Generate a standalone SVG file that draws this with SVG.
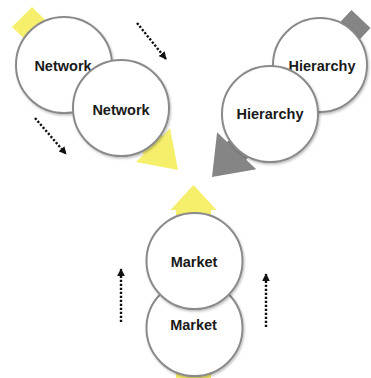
<svg xmlns="http://www.w3.org/2000/svg" width="371" height="378" viewBox="0 0 371 378">
  <defs>
    <marker id="dot-head" viewBox="0 0 10 10" refX="9" refY="5" markerWidth="3.2" markerHeight="3.2" orient="auto" markerUnits="strokeWidth">
      <path d="M0,0 L10,5 L0,10 Z" fill="#111"/>
    </marker>
    <filter id="soft" x="-20%" y="-20%" width="140%" height="140%">
      <feDropShadow dx="1" dy="1.5" stdDeviation="1.2" flood-color="#000" flood-opacity="0.25"/>
    </filter>
  </defs>
  <style>
    .ring { fill: #ffffff; stroke: #8a8a8a; stroke-width: 2; filter: url(#soft); }
    .label { font-family: "Liberation Sans", Arial, sans-serif; font-weight: bold; font-size: 14.5px; fill: #1a1a1a; text-anchor: middle; }
    .flow-y { fill: #f6ef6c; }
    .flow-g { fill: #858585; }
    .dots { fill: none; stroke: #111; stroke-width: 2.4; stroke-dasharray: 2.2 1.8; marker-end: url(#dot-head); }
  </style>
  <rect width="371" height="378" fill="#ffffff"/>

  <!-- broad block arrows running behind the circles -->
  <g id="connectors">
    <polygon class="flow-y" points="12,27 32,7 163,136 170,128 178,170 136,162 144,154"/>
    <polygon class="flow-g" points="370.5,27.9 351.5,10.1 227.2,141.9 217.1,132.3 212,177 256.3,169.3 246.2,159.7"/>
    <polygon class="flow-y" points="176,378 211,378 211,210 216.5,210 193.5,185 170.5,210 176,210"/>
    <path class="dots" d="M137,23 L166,59"/>
    <path class="dots" d="M35,118 L66,154"/>
    <path class="dots" d="M121,322 L121,269"/>
    <path class="dots" d="M266,327 L266,274"/>
  </g>

  <g id="network-1">
    <circle class="ring" cx="64" cy="65" r="48"/>
    <text class="label" x="63" y="71">Network</text>
  </g>
  <g id="network-2">
    <circle class="ring" cx="121" cy="108" r="48"/>
    <text class="label" x="121" y="115">Network</text>
  </g>

  <g id="hierarchy-1">
    <circle class="ring" cx="320" cy="65" r="47"/>
    <text class="label" x="322" y="70.5">Hierarchy</text>
  </g>
  <g id="hierarchy-2">
    <circle class="ring" cx="270" cy="114" r="48"/>
    <text class="label" x="270" y="118.5">Hierarchy</text>
  </g>

  <g id="market-2">
    <circle class="ring" cx="194.5" cy="328" r="48"/>
    <text class="label" x="193.5" y="330">Market</text>
  </g>
  <g id="market-1">
    <circle class="ring" cx="194.5" cy="261" r="48"/>
    <text class="label" x="194" y="267">Market</text>
  </g>
</svg>
